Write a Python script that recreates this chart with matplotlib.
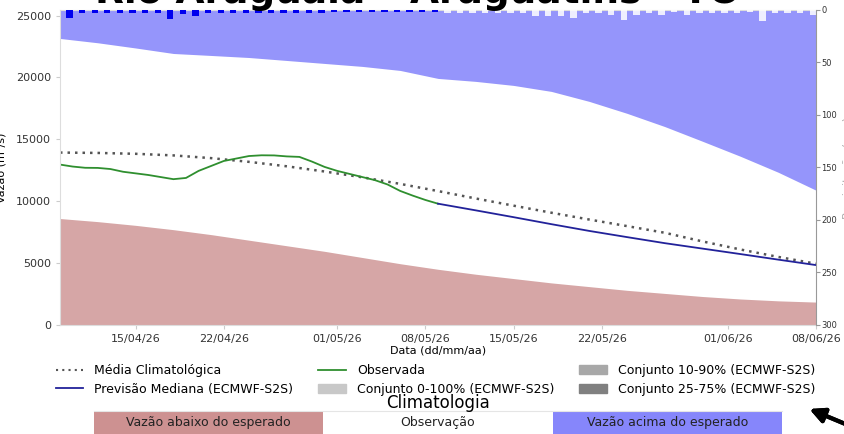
import matplotlib.pyplot as plt
from matplotlib.patches import Patch
from matplotlib.lines import Line2D
import pandas as pd

# climatologia (a cada 3 dias)
datas_clim = pd.date_range('2026-04-09', '2026-06-08', freq='3D')
clim_inf = [8600, 8350, 8050, 7700, 7300, 6850, 6400, 5950, 5450, 4950, 4500,
            4100, 3750, 3400, 3100, 2800, 2550, 2300, 2100, 1950, 1850]
clim_sup = [23150, 22800, 22380, 21935, 21775, 21610, 21370, 21130, 20890, 20565, 19920,
            19680, 19355, 18870, 18065, 17100, 16030, 14840, 13630, 12340, 10890]
clim_media = [13930, 13900, 13830, 13700, 13480, 13180, 12820, 12400, 11930, 11400, 10820,
              10220, 9640, 9070, 8520, 7990, 7450, 6750, 6100, 5500, 4950]

# vazao observada (diaria)
datas_obs = pd.date_range('2026-04-09', '2026-05-09', freq='D')
vazao_obs = [12960, 12800, 12700, 12690, 12600, 12380, 12250, 12120, 11950, 11780, 11880,
             12450, 12850, 13250, 13450, 13650, 13710, 13700, 13620, 13580, 13200,
             12770, 12450, 12200, 11950, 11700, 11350, 10830, 10450, 10100, 9800]

# previsao mediana ECMWF-S2S
datas_prev = pd.date_range('2026-05-09', '2026-06-08', freq='3D')
vazao_prev = [9800, 9260, 8710, 8145, 7600, 7100, 6610, 6170, 5730, 5280, 4840]

# precipitacao (mm)
datas_chuva_obs = pd.date_range('2026-04-10', '2026-05-09', freq='D')
chuva_obs = [8, 3, 3, 2.5, 2.5, 2.5, 2.5, 2.5, 9, 4, 6, 2.5, 2.5, 2.5, 2.5, 2.5, 2.5, 2.5,
             2.5, 2.5, 2.5, 2, 2, 2, 2, 2, 1.5, 1.5, 1.5, 1.5]
datas_chuva_prev = pd.date_range('2026-05-10', '2026-06-08', freq='D')
chuva_prev = [2.5, 2.5, 2.5, 2.5, 2.5, 2.5, 2.5, 5.5, 5.5, 5.5, 8, 3, 2.5, 5, 9.5, 5, 3, 5,
              2, 4.5, 3, 3, 3, 3, 2, 10.5, 3, 3, 3, 4.5]

ticks_x = pd.to_datetime(['2026-04-15', '2026-04-22', '2026-05-01', '2026-05-08',
                          '2026-05-15', '2026-05-22', '2026-06-01', '2026-06-08'])
ticks_x_lab = [d.strftime('%d/%m/%y') for d in ticks_x]

caixas_clim = ['Vazão abaixo do esperado', 'Observação', 'Vazão acima do esperado']
cores_clim = ['#cd9191', 'white', '#8686fb']

fig = plt.figure(figsize=(8.44, 4.34), dpi=100)
ax = fig.add_axes([0.0711, 0.2512, 0.8957, 0.7258])

ymax = 25450
ax.fill_between(datas_clim, 0, clim_inf, color='#d6a6a6', lw=0)
ax.fill_between(datas_clim, clim_sup, ymax, color='#9595fb', lw=0)
ax.plot(datas_clim, clim_media, ls=(0, (1, 2)), color='#555555', lw=1.8)
ax.plot(datas_obs, vazao_obs, color='#2f8f2f', lw=1.3)
ax.plot(datas_prev, vazao_prev, color='#22229a', lw=1.3)

ax.set_xlim(pd.Timestamp('2026-04-09'), pd.Timestamp('2026-06-08'))
ax.set_ylim(0, ymax)
ax.set_xticks(ticks_x)
ax.set_xticklabels(ticks_x_lab)
ax.set_yticks([0, 5000, 10000, 15000, 20000, 25000])
ax.tick_params(labelsize=8, colors='#333333', length=3)
ax.tick_params(axis='both', color='#cccccc')
ax.set_xlabel('Data (dd/mm/aa)', fontsize=8, labelpad=1)
ax.set_ylabel('Vazão (m³/s)', fontsize=8, labelpad=6.5)
for s in ['left', 'bottom', 'top']:
    ax.spines[s].set_color('#dddddd')
ax.spines['right'].set_visible(False)

ax2 = ax.twinx()
ax2.bar(datas_chuva_obs, chuva_obs, width=-0.5, align='edge', color='#0000ee')
ax2.bar(datas_chuva_prev, chuva_prev, width=-0.5, align='edge', color='white', alpha=0.85)
ax2.set_ylim(300, 0)
ax2.set_yticks([0, 50, 100, 150, 200, 250, 300])
ax2.tick_params(labelsize=6, colors='#333333', length=3)
ax2.tick_params(axis='y', color='#999999', pad=1)
ax2.set_ylabel('Precipitação (mm)', fontsize=8, color='#aaaaaa')
ax2.spines['right'].set_color('#999999')
for s in ['left', 'bottom', 'top']:
    ax2.spines[s].set_visible(False)

handles = [
    Line2D([], [], ls=(0, (1, 2)), color='#555555', lw=1.5),
    Line2D([], [], color='#22229a', lw=1.3),
    Line2D([], [], color='#2f8f2f', lw=1.3),
    Patch(color='#c8c8c8'),
    Patch(color='#a8a8a8'),
    Patch(color='#808080'),
]
labels = ['Média Climatológica', 'Previsão Mediana (ECMWF-S2S)', 'Observada',
          'Conjunto 0-100% (ECMWF-S2S)', 'Conjunto 10-90% (ECMWF-S2S)',
          'Conjunto 25-75% (ECMWF-S2S)']
fig.legend(handles, labels, loc='center', bbox_to_anchor=(0.516, 0.125), ncol=3,
           frameon=False, fontsize=9, handlelength=2.2, columnspacing=2.0,
           handletextpad=0.9, labelspacing=0.45)

fig.text(0.519, 0.0714, 'Climatologia', ha='center', va='center', fontsize=12)

axc = fig.add_axes([0.1114, 0.0, 0.8152, 0.053])
axc.bar(range(3), [1, 1, 1], width=1, color=cores_clim)
for i, t in enumerate(caixas_clim):
    axc.text(i, 0.5, t, ha='center', va='center', fontsize=9, color='#222222')
axc.set_xlim(-0.5, 2.5)
axc.set_ylim(0, 1)
axc.set_xticks([])
axc.set_yticks([])
for s in ['left', 'right', 'bottom']:
    axc.spines[s].set_visible(False)
axc.spines['top'].set_color('#e5e5e5')

fig.text(0.495, 0.992, 'Rio Araguaia – Araguatins - TO', ha='center', va='baseline',
         fontsize=27, fontweight='bold')

fig.add_artist(plt.annotate('', xy=(0.956, 0.06), xytext=(1.03, 0.0), xycoords='figure fraction',
                            arrowprops=dict(arrowstyle='-|>', lw=3, color='black',
                                            mutation_scale=22)))

fig.savefig('out.png', dpi=100)
